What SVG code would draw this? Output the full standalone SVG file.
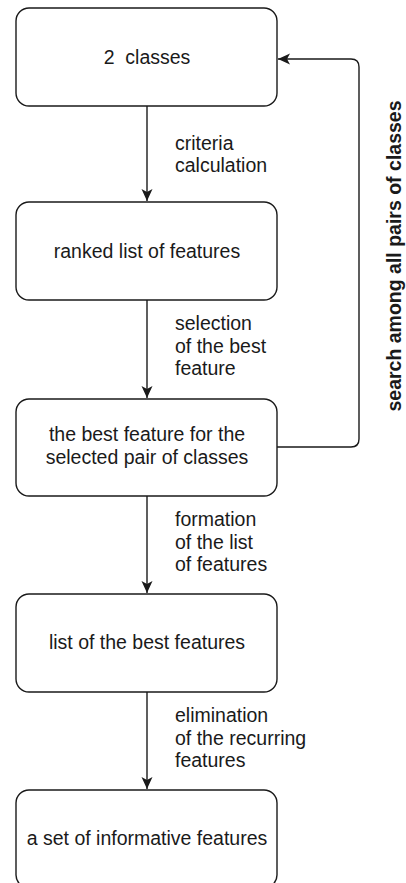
<svg xmlns="http://www.w3.org/2000/svg" width="406" height="883" viewBox="0 0 406 883">
<style>
.box{fill:#fff;stroke:#1a1a1a;stroke-width:1.4}
.t{font-family:"Liberation Sans",Arial,sans-serif;font-size:19.5px;fill:#1a1a1a;white-space:pre}
.c{text-anchor:middle}
.line{fill:none;stroke:#1a1a1a;stroke-width:1.4}
.b{font-weight:bold}
</style>
<defs>
<marker id="ah" viewBox="0 0 12 12" refX="12" refY="6" markerWidth="12" markerHeight="12" markerUnits="userSpaceOnUse" orient="auto">
<path d="M0,0.5 L12,6 L0,11.5 L3,6 Z" fill="#1a1a1a"/>
</marker>
</defs>
<rect width="406" height="883" fill="#fff"/>
<g id="connectors">
<line class="line" x1="147" y1="106" x2="147" y2="201" marker-end="url(#ah)"/>
<line class="line" x1="147" y1="300" x2="147" y2="398" marker-end="url(#ah)"/>
<line class="line" x1="147" y1="496" x2="147" y2="593" marker-end="url(#ah)"/>
<line class="line" x1="147" y1="692" x2="147" y2="789" marker-end="url(#ah)"/>
<path class="line" d="M277,447 H351 Q359,447 359,439 V67 Q359,59 351,59 H278" marker-end="url(#ah)"/>
<text class="t" x="175" y="150">criteria</text>
<text class="t" x="175" y="172">calculation</text>
<text class="t" x="175" y="330">selection</text>
<text class="t" x="175" y="352.5">of the best</text>
<text class="t" x="175" y="375">feature</text>
<text class="t" x="175" y="526">formation</text>
<text class="t" x="175" y="548.5">of the list</text>
<text class="t" x="175" y="571">of features</text>
<text class="t" x="175" y="722">elimination</text>
<text class="t" x="175" y="744.5">of the recurring</text>
<text class="t" x="175" y="767">features</text>
<text class="t b c" x="401" y="256" transform="rotate(-90 401 256)">search among all pairs of classes</text>
</g>
<g id="node1">
<rect class="box" x="16" y="8" width="261" height="98" rx="13"/>
<text class="t c" x="147" y="64">2  classes</text>
</g>
<g id="node2">
<rect class="box" x="16" y="202" width="261" height="98" rx="13"/>
<text class="t c" x="147" y="258">ranked list of features</text>
</g>
<g id="node3">
<rect class="box" x="16" y="399" width="261" height="97" rx="13"/>
<text class="t c" x="147" y="441">the best feature for the</text>
<text class="t c" x="147" y="463.5">selected pair of classes</text>
</g>
<g id="node4">
<rect class="box" x="16" y="594" width="261" height="98" rx="13"/>
<text class="t c" x="147" y="649">list of the best features</text>
</g>
<g id="node5">
<rect class="box" x="16" y="790" width="261" height="98" rx="13"/>
<text class="t c" x="147" y="845">a set of informative features</text>
</g>
</svg>
